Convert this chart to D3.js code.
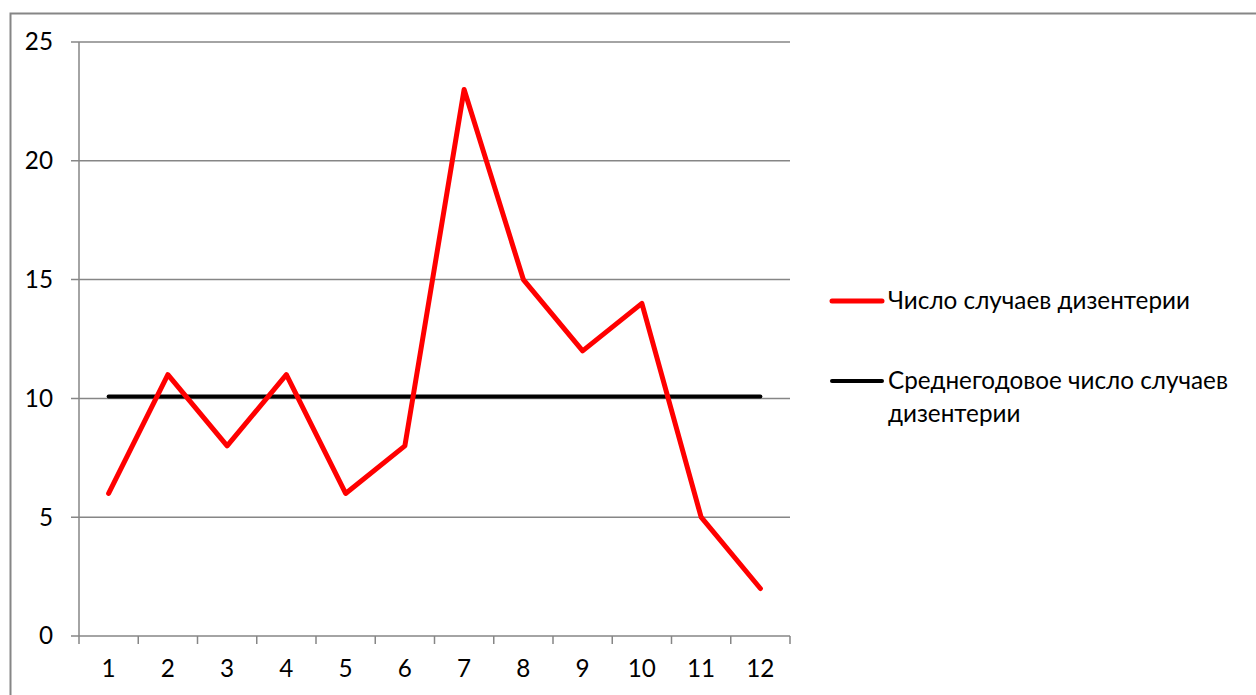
<!DOCTYPE html>
<html><head><meta charset="utf-8">
<script src="https://cdn.jsdelivr.net/npm/d3@7"></script>
<style>body{margin:0;background:#fff}svg{display:block}</style>
</head><body>
<script>
const categories = ["1","2","3","4","5","6","7","8","9","10","11","12"];
const cases = [6, 11, 8, 11, 6, 8, 23, 15, 12, 14, 5, 2];
const average = [10.08,10.08,10.08,10.08,10.08,10.08,10.08,10.08,10.08,10.08,10.08,10.08];
const yTicks = [0, 5, 10, 15, 20, 25];
const seriesNames = ["Число случаев дизентерии", "Среднегодовое число случаев дизентерии"];

(function () {
const W = 1256, H = 695;
const font = "Lato, 'Open Sans', sans-serif";
const svg = d3.select("body").append("svg").attr("width", W).attr("height", H);

// measure font size so legend text width matches reference (~302px)
const probe = svg.append("text").attr("font-family", font).attr("font-size", 20).text(seriesNames[0]);
const wProbe = probe.node().getComputedTextLength();
probe.remove();
const fs = 20 * 302 / wProbe;

svg.append("rect").attr("x", 10.5).attr("y", 13.5).attr("width", 1260).attr("height", 700)
  .attr("fill", "none").attr("stroke", "#868686").attr("stroke-width", 2);

const pl = 79, pr = 790, pt = 42, pb = 636;
const x = d3.scaleBand().domain(categories).range([pl, pr]);
const y = d3.scaleLinear().domain([0, 25]).range([pb, pt]);

svg.append("g").selectAll("line").data(yTicks).join("line")
  .attr("x1", pl - 8).attr("x2", pr).attr("y1", d => y(d)).attr("y2", d => y(d))
  .attr("stroke", "#868686").attr("stroke-width", 1.5);

svg.append("line").attr("x1", pl).attr("x2", pl).attr("y1", pt).attr("y2", pb)
  .attr("stroke", "#868686").attr("stroke-width", 1.5);

const xTickPos = categories.map(c => x(c)).concat([pr]);
svg.append("g").selectAll("line").data(xTickPos).join("line")
  .attr("x1", d => d).attr("x2", d => d).attr("y1", pb).attr("y2", pb + 8)
  .attr("stroke", "#868686").attr("stroke-width", 1.5);

svg.append("g").selectAll("text").data(yTicks).join("text")
  .attr("x", 53).attr("y", d => y(d)).attr("dy", "0.35em").attr("text-anchor", "end")
  .attr("font-family", font).attr("font-size", fs).attr("fill", "#000").text(d => d);

svg.append("g").selectAll("text").data(categories).join("text")
  .attr("x", d => x(d) + x.bandwidth() / 2).attr("y", 669).attr("dy", "0.35em").attr("text-anchor", "middle")
  .attr("font-family", font).attr("font-size", fs).attr("fill", "#000").text(d => d);

const line = d3.line().x((d, i) => x(categories[i]) + x.bandwidth() / 2).y(d => y(d));

svg.append("path").datum(average).attr("d", line).attr("fill", "none")
  .attr("stroke", "#000").attr("stroke-width", 4).attr("stroke-linecap", "round");
svg.append("path").datum(cases).attr("d", line).attr("fill", "none")
  .attr("stroke", "#ff0000").attr("stroke-width", 5).attr("stroke-linecap", "round").attr("stroke-linejoin", "round");

const lg = svg.append("g");
lg.append("line").attr("x1", 832).attr("x2", 882).attr("y1", 301).attr("y2", 301)
  .attr("stroke", "#ff0000").attr("stroke-width", 5).attr("stroke-linecap", "round");
lg.append("text").attr("x", 888).attr("y", 301).attr("dy", "0.35em")
  .attr("font-family", font).attr("font-size", fs).text(seriesNames[0]);
lg.append("line").attr("x1", 832).attr("x2", 882).attr("y1", 381).attr("y2", 381)
  .attr("stroke", "#000").attr("stroke-width", 4).attr("stroke-linecap", "round");
const t2 = lg.append("text").attr("font-family", font).attr("font-size", fs);
t2.append("tspan").attr("x", 888).attr("y", 381).attr("dy", "0.35em").text("Среднегодовое число случаев");
t2.append("tspan").attr("x", 888).attr("y", 414).attr("dy", "0.35em").text("дизентерии");
})();
</script>
</body></html>
